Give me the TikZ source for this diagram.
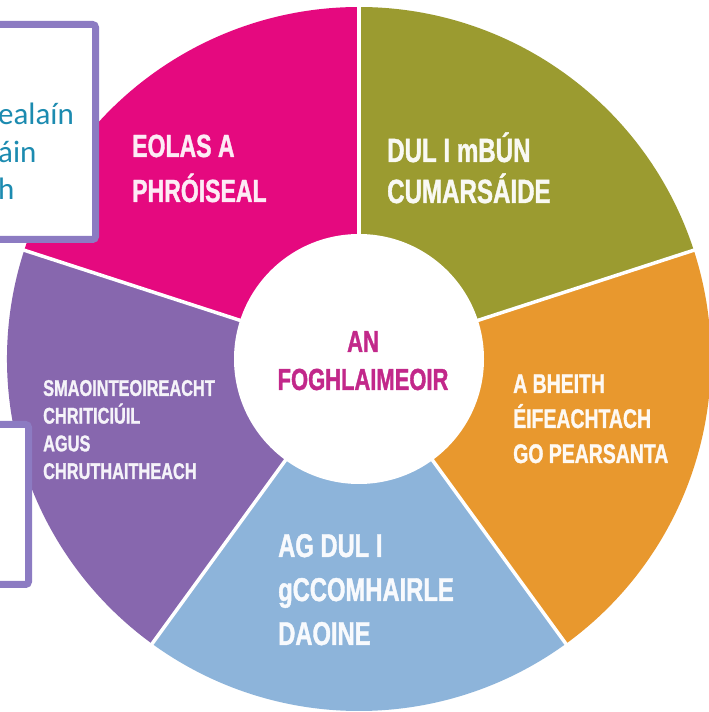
\documentclass[tikz,border=0pt]{standalone}
\usepackage{fontspec}
\setmainfont{Liberation Sans}
\newfontfamily\cond[FakeStretch=0.72,FakeBold=1.2]{Liberation Sans}
\newfontfamily\bodyfont{Carlito}
\definecolor{segpink}{HTML}{E5097F}
\definecolor{segolive}{HTML}{9B9B30}
\definecolor{segorange}{HTML}{E8982E}
\definecolor{segblue}{HTML}{8DB4DA}
\definecolor{segpurple}{HTML}{8767AE}
\definecolor{boxline}{HTML}{8C7BC2}
\definecolor{tealtext}{HTML}{1C8BB0}
\definecolor{centertext}{HTML}{C2288A}
\tikzset{
  seglabel/.style={inner sep=0pt, anchor=base west, align=left},
  sidebox/.style={draw=boxline, line width=7pt, fill=white, rounded corners=3pt},
}
\begin{document}
\begin{tikzpicture}[x=1pt,y=1pt]
\useasboundingbox (0,0) rectangle (709,712);
\fill[white] (0,0) rectangle (709,712);
\coordinate (c) at (359,353);
\def\R{352}
% sectors
\fill[segpink]   (c) -- ++(90:\R)  arc[start angle=90, end angle=162, radius=\R] -- cycle;
\fill[segolive]  (c) -- ++(18:\R)  arc[start angle=18, end angle=90, radius=\R] -- cycle;
\fill[segorange] (c) -- ++(-54:\R) arc[start angle=-54, end angle=18, radius=\R] -- cycle;
\fill[segblue]   (c) -- ++(-126:\R) arc[start angle=-126, end angle=-54, radius=\R] -- cycle;
\fill[segpurple] (c) -- ++(162:\R) arc[start angle=162, end angle=234, radius=\R] -- cycle;
% separators
\foreach \a in {90,18,-54,-126,162}
  \draw[white, line width=3.5pt] (c) -- ++(\a:\R+2);
% inner circle
\fill[white] (c) circle[radius=125];
% segment labels (anchor = baseline of the last line)
\node[seglabel, text=white!92!segpink, font=\cond\bfseries\fontsize{32}{45}\selectfont] (eolas) at (132,510) {EOLAS A\\PHRÓISEAL};
\node[seglabel, text=white!94!segolive, font=\cond\bfseries\fontsize{33.5}{41}\selectfont] (dul) at (387,509) {DUL I mBÚN\\CUMARSÁIDE};
\node[seglabel, text=white!94!segorange, font=\cond\bfseries\fontsize{27}{35}\selectfont] (bheith) at (513,249) {A BHEITH\\ÉIFEACHTACH\\GO PEARSANTA};
\node[seglabel, text=white!92!segpurple, font=\cond\bfseries\fontsize{22.7}{27.7}\selectfont] (smaoint) at (43,233) {SMAOINTEOIREACHT\\CHRITICIÚIL\\AGUS\\CHRUTHAITHEACH};
\node[seglabel, text=white!94!segblue, font=\cond\bfseries\fontsize{33}{44}\selectfont] (comhairle) at (278,67) {AG DUL I\\gCCOMHAIRLE\\DAOINE};
\node[inner sep=0pt, anchor=base, align=center, text=centertext, font=\cond\bfseries\fontsize{30.5}{38}\selectfont] (learner) at (363,322) {AN\\FOGHLAIMEOIR};
% side boxes
\draw[sidebox] (-12,472.5) rectangle (95.5,687.5);
\node[seglabel, text=tealtext, font=\bodyfont\fontsize{31}{37.5}\selectfont] (boxtext) at (-2,512) {ealaín\\áin\\h};
\draw[sidebox] (-12,127.5) rectangle (28.5,287.5);
\end{tikzpicture}
\end{document}
